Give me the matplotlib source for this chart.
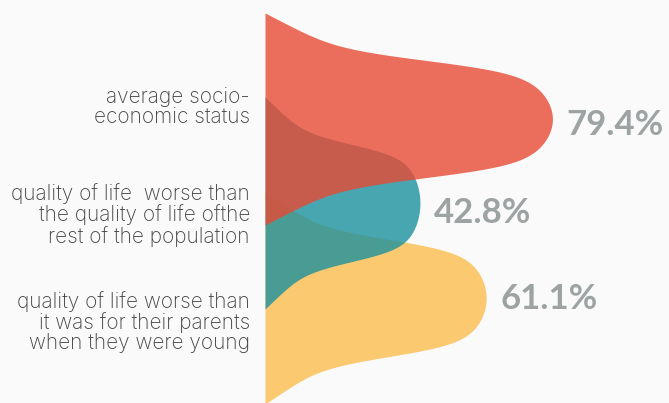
import numpy as np
import matplotlib.pyplot as plt

# --- Data ---
labels = ['average socio-\neconomic status',
          'quality of life  worse than\nthe quality of life ofthe\nrest of the population',
          'quality of life worse than\nit was for their parents\nwhen they were young']
values = [79.4, 42.8, 61.1]
colors = ['#E84A34', '#1C919E', '#FBBD4E']

# layout (pixel rows of the 669x403 canvas)
centers = [119, 203, 298]
half_span = 106
label_y = [107, 215, 322]
value_y = [125, 213, 299]
px_per_pct = 3.62
base_x = 265

bg = '#FAFAFA'


def profile(u):
    # rounded nose + soft tail, 1 at the centre, 0 at |u| = 1
    u = np.clip(np.abs(u), 0, 1)
    nose = 1 / (1 + np.exp((u - 0.55) / 0.06))
    tail = np.cos(np.pi / 2 * u)
    return 0.55 * nose + 0.45 * tail


fig = plt.figure(figsize=(6.69, 4.03), dpi=100, facecolor=bg)
ax = fig.add_axes([base_x / 669, 0, 1 - base_x / 669, 1])
ax.set_facecolor(bg)
ax.set_xlim(0, (669 - base_x) / px_per_pct)
ax.set_ylim(403, 0)
ax.axis('off')

# draw bottom shape first so the upper ones sit on top
for i in [2, 1, 0]:
    y = np.linspace(centers[i] - half_span, centers[i] + half_span, 600)
    w = values[i] * profile((y - centers[i]) / half_span)
    ax.fill_betweenx(y, 0, w, color=colors[i], alpha=0.8, lw=0, zorder=3 - i)

for i in range(3):
    ax.text(-15 / px_per_pct, label_y[i], labels[i], ha='right', va='center',
            fontsize=15, family='Inter', fontweight='light', color='#454545',
            linespacing=1.03, clip_on=False)
    ax.text(values[i] + 14 / px_per_pct, value_y[i], f'{values[i]:.1f}%',
            ha='left', va='center', fontsize=25, family='Lato',
            fontweight='bold', color='#9DA3A3', zorder=5)

fig.savefig('out.png', dpi=100, facecolor=bg)
